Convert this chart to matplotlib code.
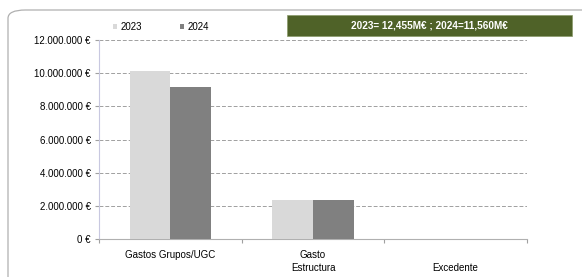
import matplotlib
matplotlib.use("Agg")
import matplotlib.pyplot as plt
from matplotlib.patches import FancyBboxPatch, Rectangle
import numpy as np

categories = ["Gastos Grupos/UGC", "Gasto\nEstructura", "\nExcedente"]
series_names = ["2023", "2024"]
values_2023 = [10120000, 2335000, 0]
values_2024 = [9180000, 2380000, 0]
yticks = [0, 2000000, 4000000, 6000000, 8000000, 10000000, 12000000]
ytick_labels = ["0 €", "2.000.000 €", "4.000.000 €", "6.000.000 €",
                "8.000.000 €", "10.000.000 €", "12.000.000 €"]
banner = "2023= 12,455M€ ; 2024=11,560M€"

plt.rcParams['font.family'] = ['Liberation Sans', 'DejaVu Sans']

fig = plt.figure(figsize=(5.82, 2.77), dpi=100)
W, H = 582, 277

# outer rounded frame
frame = FancyBboxPatch((8 / W, -0.2), 1.2, (277 - 10) / H + 0.2,
                       boxstyle="round,pad=0,rounding_size=0.03",
                       transform=fig.transFigure, fill=False,
                       edgecolor="#b0b0b0", linewidth=0.9)
fig.patches.append(frame)

ax = fig.add_axes([99 / W, 1 - 239 / H, (527 - 99) / W, (239 - 40) / H])
x = np.arange(len(categories))
bw = 0.285
ax.bar(x - bw / 2, values_2023, width=bw, color="#d9d9d9", label=series_names[0], zorder=3)
ax.bar(x + bw / 2, values_2024, width=bw, color="#808080", label=series_names[1], zorder=3)

ax.set_xlim(-0.5, 2.5)
ax.set_ylim(0, 12000000)
ax.set_yticks(yticks)
ax.set_yticklabels(ytick_labels, fontsize=7)
ax.set_xticks([-0.5, 0.5, 1.5, 2.5])
ax.set_xticklabels([])
ax.set_xticks(x, minor=True)
ax.set_xticklabels(categories, minor=True, fontsize=7, linespacing=1.3)
ax.tick_params(axis='x', which='minor', length=0, pad=8)
ax.tick_params(axis='x', which='major', length=3, color="#a0a0a0", direction='out')
ax.tick_params(axis='y', length=3, color="#a0a0a0", pad=3)

ax.grid(axis='y', color="#a0a0a0", linestyle=(0, (4, 2)), linewidth=0.7, zorder=0)
for s in ["top", "right"]:
    ax.spines[s].set_visible(False)
ax.spines["left"].set_color("#c8c8e0")
ax.spines["bottom"].set_color("#b0b0b0")

# legend
leg = fig.legend(loc="upper left", bbox_to_anchor=(106 / W, 1 - 15 / H), ncol=2,
                 frameon=False, fontsize=7, handlelength=0.45, handleheight=0.45,
                 columnspacing=3.9, handletextpad=0.35, borderpad=0.2)

# banner
fig.patches.append(Rectangle((287 / W, 1 - 36 / H), (572 - 287) / W, 21 / H,
                             transform=fig.transFigure, facecolor="#4f6228",
                             edgecolor="#8a9a6a", linewidth=0.5, zorder=5))
fig.text((287 + 572) / 2 / W, 1 - 25.5 / H, banner, color="white", fontsize=7.2,
         fontweight="bold", ha="center", va="center", zorder=6)

fig.savefig("out.png", dpi=100)
